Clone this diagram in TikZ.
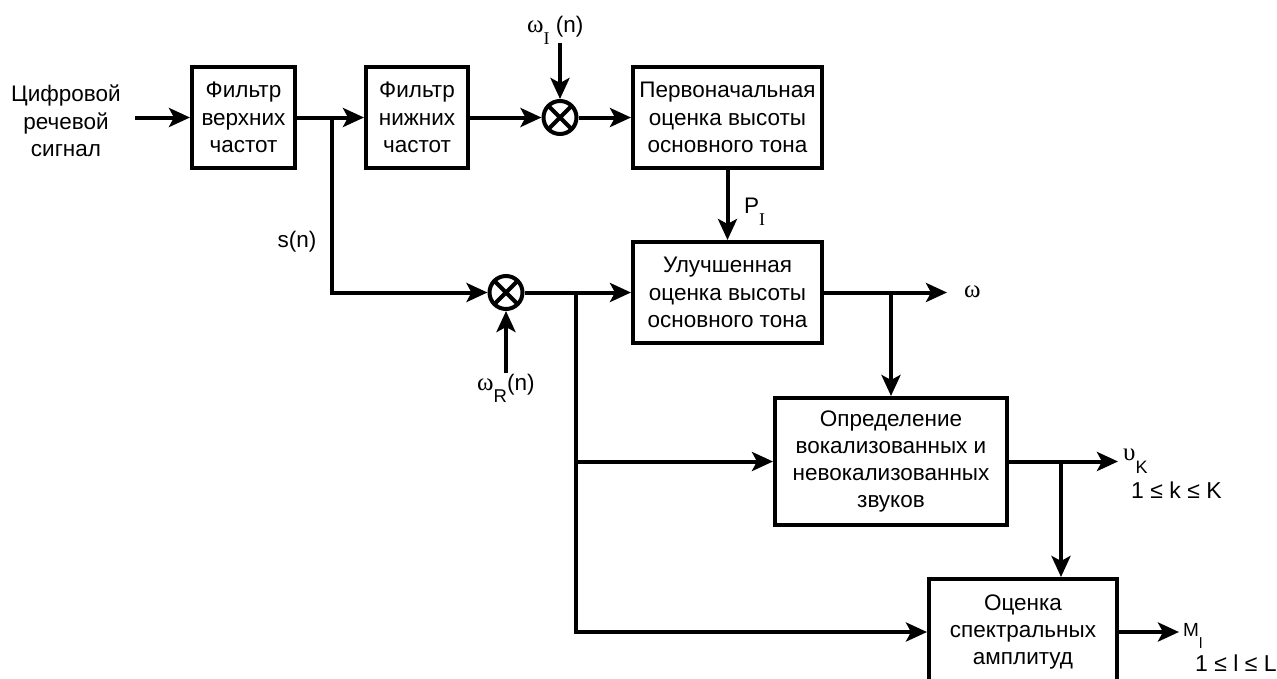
\documentclass[tikz,border=0pt]{standalone}
\usepackage{fontspec}
\setmainfont{Liberation Sans}
\newfontfamily\grk{Liberation Serif}
\usetikzlibrary{arrows.meta}
\begin{document}
\begin{tikzpicture}[x=1pt,y=-1pt,
  blk/.style={draw, line width=4pt, align=center, inner sep=0pt, fill=white,
    font=\fontsize{22.5}{27.3}\selectfont},
  lbl/.style={inner sep=0pt, align=center, font=\fontsize{22.5}{27.3}\selectfont},
  wire/.style={line width=4pt},
  arr/.style={wire, -{Stealth[length=21pt,width=19pt,inset=5pt]}},
  mult/.style={draw, circle, line width=4pt, minimum size=33pt, inner sep=0pt,
    path picture={\draw[line width=4pt] (path picture bounding box.center) ++(-20pt,-20pt) -- ++(40pt,40pt)
      (path picture bounding box.center) ++(-20pt,20pt) -- ++(40pt,-40pt);}}
]
\useasboundingbox (0,0) rectangle (1277,678);

% blocks
\node[lbl] (in) at (66,121) {Цифровой\\речевой\\сигнал};
\node[blk, minimum width=103pt, minimum height=101pt] (b1) at (243.5,117.5) {Фильтр\\верхних\\частот};
\node[blk, minimum width=102pt, minimum height=101pt] (b2) at (417,117.5) {Фильтр\\нижних\\частот};
\node[mult] (m1) at (560,117.5) {};
\node[blk, minimum width=189pt, minimum height=101pt] (b3) at (727.5,117.5) {Первоначальная\\оценка высоты\\основного тона};
\node[blk, minimum width=189pt, minimum height=101pt] (b4) at (727.5,292.5) {Улучшенная\\оценка высоты\\основного тона};
\node[mult] (m2) at (506,292.5) {};
\node[blk, minimum width=232pt, minimum height=127pt] (b5) at (891,461.5) {Определение\\вокализованных и\\невокализованных\\звуков};
\node[blk, minimum width=188pt, minimum height=106pt] (b6) at (1023,632) {Оценка\\спектральных\\амплитуд};

% coordinates
\coordinate (src) at (135,117.5);
\coordinate (j1) at (332,117.5);
\coordinate (j2) at (576,292.5);
\coordinate (j3) at (891,292.5);
\coordinate (wout) at (947,292.5);
\coordinate (j4) at (1061,461.5);
\coordinate (vout) at (1118,461.5);
\coordinate (mout) at (1179,632);
\coordinate (wi) at (560,43);
\coordinate (wr) at (506,373);

% connectors
\draw[arr] (src) -- (b1.west);
\draw[arr] (b1.east) -- (b2.west);
\draw[arr] (b2.east) -- (m1.west);
\draw[arr] (m1.east) -- (b3.west);
\draw[arr] (wi) -- (m1.north);
\draw[arr] (b3.south) -- (b4.north);
\draw[arr] (j1) |- (m2.west);
\draw[arr] (wr) -- (m2.south);
\draw[arr] (m2.east) -- (b4.west);
\draw[arr] (b4.east) -- (wout);
\draw[arr] (j3) -- (b5.north);
\draw[arr] (j2) |- (b6.west);
\draw[arr] (j2 |- b5.west) -- (b5.west);
\draw[arr] (b5.east) -- (vout);
\draw[arr] (j4) -- (j4 |- b6.north);
\draw[arr] (b6.east) -- (mout);

% labels
\node[lbl, anchor=base west] (lwi) at (527,32) {{\fontsize{25}{25}\selectfont\grk ω}\raisebox{-12pt}{\fontsize{18}{18}\selectfont\grk I}\ (n)};
\node[lbl, anchor=base west] (lwr) at (477,390) {{\fontsize{25}{25}\selectfont\grk ω}\raisebox{-12pt}{\fontsize{18.5}{18}\selectfont R}(n)};
\node[lbl, anchor=base west] (lp) at (744,213) {P\raisebox{-12pt}{\fontsize{18}{18}\selectfont\grk I}};
\node[lbl, anchor=base] (ls) at (297,247) {s(n)};
\node[lbl, anchor=base west] (lw) at (964,297) {\fontsize{25}{25}\selectfont\grk ω};
\node[lbl, anchor=base west] (lv) at (1123,460) {{\fontsize{25}{25}\selectfont\grk υ}\raisebox{-13pt}{\fontsize{18}{18}\selectfont K}};
\node[lbl, anchor=base west, font=\fontsize{23}{25}\selectfont] (lk) at (1131,498) {1 ≤ k ≤ K};
\node[lbl, anchor=base west, font=\fontsize{19}{22}\selectfont] (lm) at (1183,636) {M\raisebox{-12pt}{\fontsize{15}{15}\selectfont l}};
\node[lbl, anchor=base west, font=\fontsize{23}{25}\selectfont] (ll) at (1195,671) {1 ≤ l ≤ L};
\end{tikzpicture}
\end{document}
